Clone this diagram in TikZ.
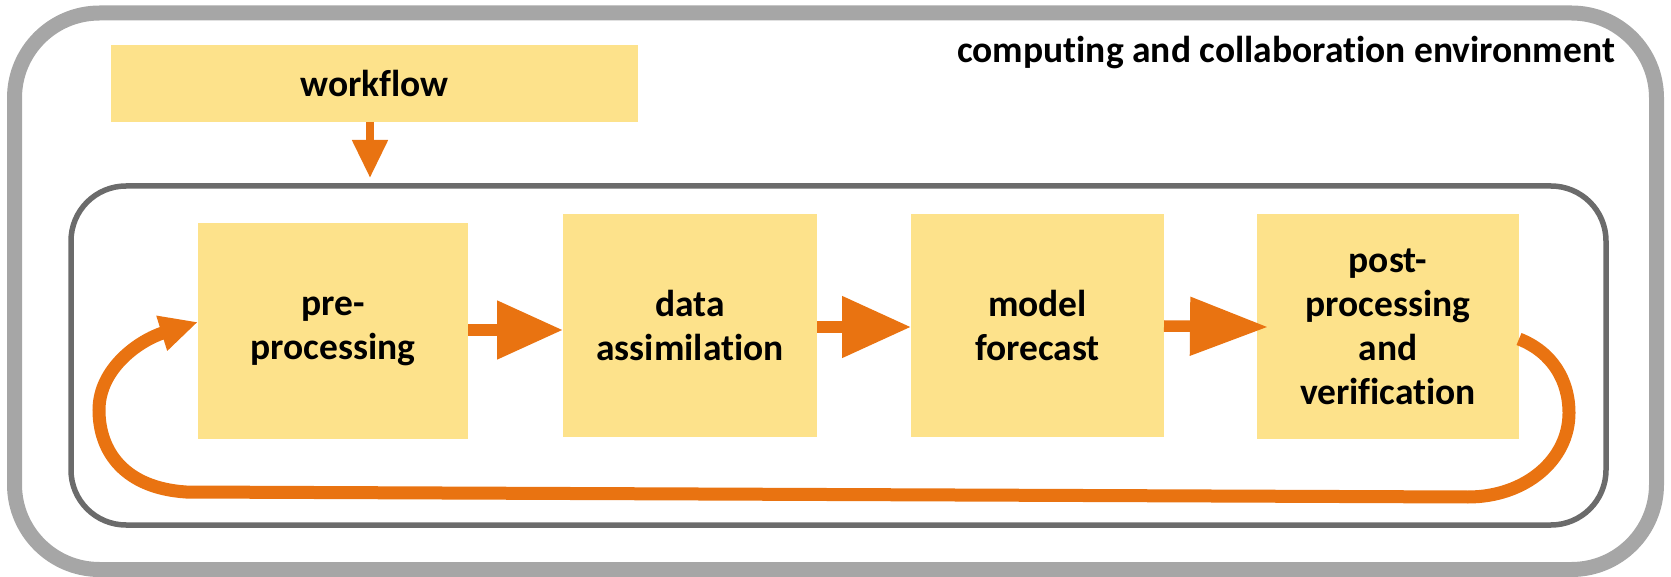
\documentclass[tikz,border=0pt]{standalone}
\usepackage{fontspec}
\setmainfont{Carlito}[Ligatures=NoCommon]
\usetikzlibrary{arrows.meta,calc}
\definecolor{boxfill}{HTML}{FDE28B}
\definecolor{flow}{HTML}{E97311}
\definecolor{envgray}{HTML}{A6A6A6}
\definecolor{framegray}{HTML}{6B6B6B}
\begin{document}
\begin{tikzpicture}[x=1pt,y=-1pt,
  stage/.style={fill=boxfill, inner sep=0pt, outer sep=0pt, font=\bfseries\fontsize{37.5}{44}\selectfont, align=center},
  envbox/.style={draw=envgray, line width=15pt, rounded corners=85pt, inner sep=0pt, outer sep=0pt},
  framebox/.style={draw=framegray, line width=5.5pt, rounded corners=55pt, inner sep=0pt, outer sep=0pt},
  flowline/.style={draw=flow, line width=11.5pt},
  lbl/.style={font=\bfseries\fontsize{37.5}{44}\selectfont, inner sep=0pt}
]
\useasboundingbox (0,0) rectangle (1671,577);
% frames
\node[envbox, minimum width=1642pt, minimum height=556.5pt] (env) at (835.5,291.25) {};
\node[framebox, minimum width=1535pt, minimum height=339pt] (frame) at (838.5,355.5) {};
\node[lbl, anchor=base east] (envlabel) at (1615,63) {computing and collaboration environment};
% boxes
\node[stage, minimum width=527pt, minimum height=77pt] (wf) at (374.5,83.5) {workflow};
\node[stage, minimum width=270pt, minimum height=216pt] (b1) at (333,331) {pre-\\processing};
\node[stage, minimum width=254pt, minimum height=223pt] (b2) at (690,325.5) {data\\assimilation};
\node[stage, minimum width=253pt, minimum height=223pt] (b3) at (1037.5,325.5) {model\\forecast};
\node[stage, minimum width=262pt, minimum height=225pt] (b4) at (1388,326.5) {post-\\processing\\and\\verification};
% arrows
\coordinate (wftip) at (370,178);
\draw[draw=flow, line width=8pt, -{Triangle[length=38pt,width=34pt]}] (wf.south -| wftip) -- (wftip);
\draw[flowline, -{Triangle[length=66pt,width=56pt]}] (b1.east |- 0,330) -- (b2.west |- 0,330);
\draw[flowline, -{Triangle[length=69pt,width=59pt]}] (b2.east |- 0,327) -- (b3.west |- 0,327);
\coordinate (t34) at ($(b4.west |- 0,327)+(11,0)$);
\draw[flowline, -{Triangle[length=78pt,width=56pt]}] (b3.east |- 0,326) -- (t34);
% feedback loop
\draw[draw=flow, line width=13pt, -{Triangle[length=38pt,width=34pt]}]
  (b4.east |- 0,339) .. controls (1552,352) and (1569,380) .. (1569,413)
  .. controls (1569,460) and (1525,497) .. (1468,497)
  -- (186,492)
  .. controls (125,488) and (99,452) .. (99,410)
  .. controls (99,368) and (140,340) .. (b1.west |- 0,322);
\end{tikzpicture}
\end{document}
